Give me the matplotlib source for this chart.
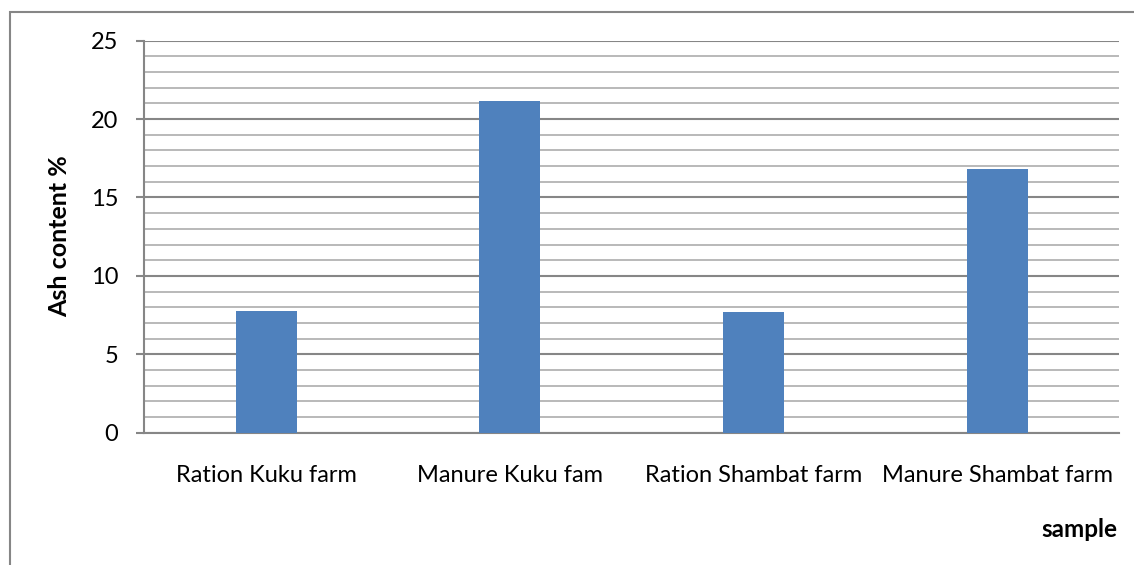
import matplotlib.pyplot as plt
from matplotlib.patches import Rectangle
from matplotlib.ticker import MultipleLocator

categories = ["Ration Kuku farm", "Manure Kuku fam", "Ration Shambat farm", "Manure Shambat farm"]
ash_pct = [7.76, 21.14, 7.72, 16.82]

BAR = "#4f81bd"
MAJOR = "#868686"
MINOR = "#b3b3b3"

plt.rcParams['font.family'] = ['Lato', 'DejaVu Sans']

fig = plt.figure(figsize=(11.34, 5.65), dpi=100)
ax = fig.add_axes([0.1274, 0.2342, 0.8594, 0.6938])

x = range(len(categories))
ax.bar(x, ash_pct, width=0.25, color=BAR, zorder=3)

ax.set_xlim(-0.5, len(categories) - 0.5)
ax.set_ylim(0, 25)
ax.yaxis.set_major_locator(MultipleLocator(5))
ax.yaxis.set_minor_locator(MultipleLocator(1))
ax.grid(axis='y', which='major', color=MAJOR, lw=1.5, zorder=1)
ax.grid(axis='y', which='minor', color=MINOR, lw=1.3, zorder=1)

for s in ['top', 'right']:
    ax.spines[s].set_visible(False)
for s in ['left', 'bottom']:
    ax.spines[s].set_color(MAJOR)
    ax.spines[s].set_linewidth(1.5)

ax.set_xticks(list(x))
ax.set_xticklabels(categories, fontsize=17)
ax.tick_params(axis='x', length=0, pad=23)
ax.tick_params(axis='y', which='major', length=6, width=1.5, color=MAJOR,
               labelsize=17, pad=13)
ax.tick_params(axis='y', which='minor', length=0)

fig.text(0.0529, 0.582, "Ash content %", rotation=90, fontsize=18,
         fontweight='bold', ha='center', va='center')
fig.text(0.985, 0.063, "sample", fontsize=17.5, fontweight='bold',
         ha='right', va='center')

# outer chart frame (only top and left visible in the crop)
fig.patches.append(Rectangle((10 / 1134, -0.05), 1.2, 1 - 12 / 565 + 0.05,
                             transform=fig.transFigure, fill=False,
                             edgecolor=MAJOR, lw=1.5))

fig.savefig("out.png", dpi=100)
